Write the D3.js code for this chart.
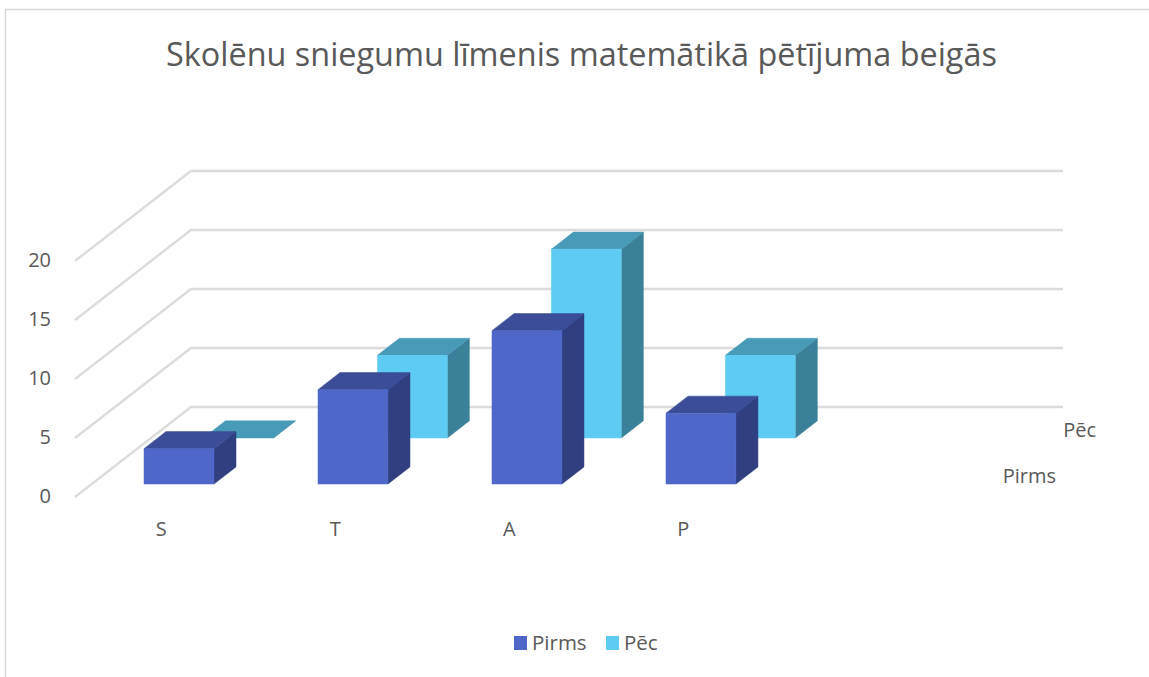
<!DOCTYPE html>
<html><head><meta charset="utf-8">
<script src="https://cdn.jsdelivr.net/npm/d3@7"></script>
<style>html,body{margin:0;padding:0;background:#fff}svg{display:block}text{font-family:"Open Sans",sans-serif;fill:#595959}</style>
</head><body><div id="c"></div>
<script>
const titleText = "Skolēnu sniegumu līmenis matemātikā pētījuma beigās";
const categories = ["S","T","A","P",""];
const seriesNames = ["Pirms","Pēc"];
const pirms = [3,8,13,6,null];
const pec = [0,7,16,7,null];
const yTicks = [0,5,10,15,20];
const faceColors = {Pirms:["#4e67c8","#3a4d96","#2f3f80"],"Pēc":["#5ecbf2","#479ab8","#3a8099"]};

const W=1149,H=677;
const svg=d3.select("#c").append("svg").attr("width",W).attr("height",H);
// frame
svg.append("path").attr("d",`M5.5,${H}V9.5H${W}`).attr("fill","none").attr("stroke","#d9d9d9").attr("stroke-width",1.5);

const x=d3.scaleBand().domain(categories).range([75,947]).paddingInner(.598).paddingOuter(.305).align(.493);
const y=d3.scaleLinear().domain([0,20]).range([497,261]);
const dx=d3.scaleLinear().domain([0,1]).range([0,116]);
const dy=d3.scaleLinear().domain([0,1]).range([0,-90]);
const depth=d3.scalePoint().domain(seriesNames).range([.144,.656]);
const barDepth=.19;
const P=(px,v,t)=>[px+dx(t),y(v)+dy(t)];
const line=d3.line();

// walls and gridlines
const grid=svg.append("g").attr("fill","none").attr("stroke","#dcdcdc").attr("stroke-width",2.4);
yTicks.forEach(v=>{
  grid.append("path").attr("d",line([P(x.range()[0],v,0),P(x.range()[0],v,1),P(x.range()[1],v,1)]));
});

// bars, back series first
const seriesData={Pirms:pirms,"Pēc":pec};
[...seriesNames].reverse().forEach(name=>{
  const [cFront,cTop,cSide]=faceColors[name];
  const t0=depth(name),t1=t0+barDepth;
  const g=svg.append("g");
  categories.forEach((c,i)=>{
    const v=seriesData[name][i];
    if(v==null) return;
    const l=x(c),r=l+x.bandwidth();
    g.append("path").attr("fill",cSide).attr("stroke",cSide).attr("stroke-width",.5).attr("d",line([P(r,0,t0),P(r,v,t0),P(r,v,t1),P(r,0,t1)])+"Z");
    g.append("path").attr("fill",cTop).attr("stroke",cTop).attr("stroke-width",.5).attr("d",line([P(l,v,t0),P(l,v,t1),P(r,v,t1),P(r,v,t0)])+"Z");
    if(v>0) g.append("path").attr("fill",cFront).attr("stroke",cFront).attr("stroke-width",.5).attr("d",line([P(l,0,t0),P(l,v,t0),P(r,v,t0),P(r,0,t0)])+"Z");
  });
});

// value axis labels
svg.append("g").selectAll("text").data(yTicks).join("text")
  .attr("x",51).attr("y",d=>y(d)-1).attr("dy","0.36em").attr("text-anchor","end").attr("font-size",20).text(d=>d);
// category labels
svg.append("g").selectAll("text").data(categories.filter(c=>c)).join("text")
  .attr("x",c=>x(c)+x.bandwidth()/2-1).attr("y",529).attr("dy","0.36em").attr("text-anchor","middle").attr("font-size",20).text(c=>c);
// depth axis labels
svg.append("g").selectAll("text").data(seriesNames).join("text")
  .attr("x",n=>n==="Pirms"?1056:1096).attr("y",n=>n==="Pirms"?476:430).attr("dy","0.36em").attr("text-anchor","end").attr("font-size",20).text(n=>n);
// title
svg.append("text").attr("x",581.5).attr("y",54).attr("dy","0.36em").attr("text-anchor","middle").attr("font-size",32.4).text(titleText);
// legend
const legend=svg.append("g");
seriesNames.forEach((n,i)=>{
  const lx=i===0?514:606;
  legend.append("rect").attr("x",lx).attr("y",636).attr("width",13).attr("height",14).attr("fill",faceColors[n][0]);
  legend.append("text").attr("x",lx+18).attr("y",643).attr("dy","0.36em").attr("font-size",20.5).text(n);
});
</script></body></html>
